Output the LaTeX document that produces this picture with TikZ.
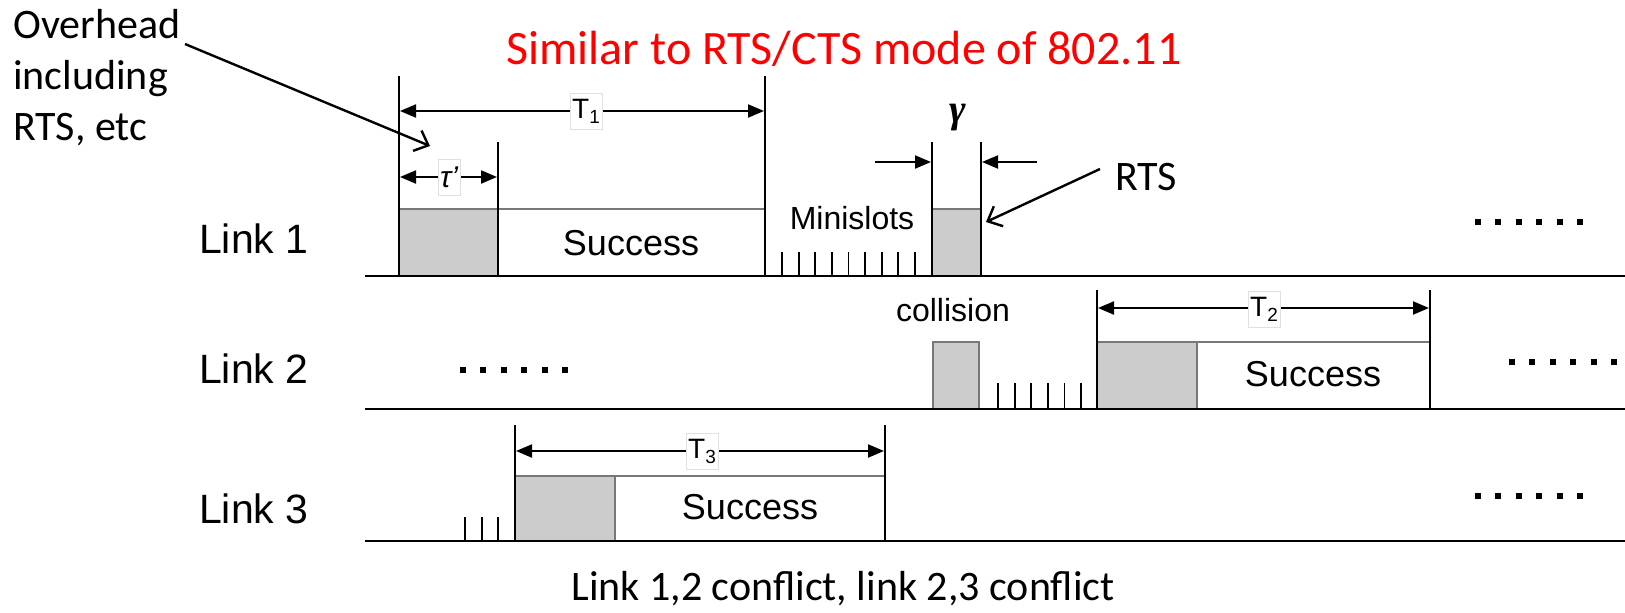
\documentclass[tikz,border=0pt]{standalone}
\usepackage{fontspec}
\setmainfont{Carlito}
\newfontfamily\arial{Liberation Sans}
\newfontfamily\tnr{Liberation Serif}
\usetikzlibrary{arrows.meta}
\definecolor{slotgray}{RGB}{204,204,204}
\definecolor{edgegray}{RGB}{120,120,120}
\definecolor{titlered}{RGB}{255,0,0}
\newcommand{\fs}[1]{\fontsize{#1}{#1}\selectfont}
\newcommand{\tsub}[2]{#1\raisebox{-5pt}{\fs{19}#2}}
\begin{document}
\begin{tikzpicture}[x=1pt,y=-1pt,
  baseln/.style={line width=2.4pt, black},
  vbar/.style={line width=2.2pt, black},
  tickln/.style={line width=1.8pt, black},
  ohbox/.style={fill=slotgray, draw=edgegray, line width=1.2pt},
  succbox/.style={fill=white, draw=edgegray, line width=1.2pt},
  dimarrow/.style={line width=2pt, {Triangle[length=16pt,width=13pt]}-{Triangle[length=16pt,width=13pt]}},
  pusharrow/.style={line width=2pt, -{Triangle[length=16pt,width=13pt]}},
  tlabel/.style={fill=white, draw=black!12, line width=0.6pt, inner sep=2pt, minimum height=36pt, font=\arial\fs{28}},
  pointer/.style={line width=2.4pt, -{Straight Barb[length=12pt,width=22pt,line width=2.4pt]}},
  dotrow/.style={line width=6pt, dash pattern=on 6pt off 14.4pt},
  linklabel/.style={anchor=base west, inner sep=0, font=\arial\fs{41}},
  slottext/.style={inner sep=0, font=\arial\fs{36}},
  smalltext/.style={inner sep=0, font=\arial\fs{32}},
  note/.style={inner sep=0, font=\fs{42}},
]
\useasboundingbox (0,0) rectangle (1625,613);

% ---------- title and notes ----------
\node[note, anchor=base, text=titlered, font=\fs{48}] (title) at (844,64) {Similar to RTS/CTS mode of 802.11};
\node[note, anchor=base] (bottom) at (843,600) {Link 1,2 conflict, link 2,3 conflict};
\node[note, anchor=base west] (ov1) at (13,38) {Overhead};
\node[note, anchor=base west] (ov2) at (13,89) {including};
\node[note, anchor=base west] (ov3) at (13,140) {RTS, etc};

% ---------- link labels ----------
\node[linklabel] (l1) at (199,253) {Link 1};
\node[linklabel] (l2) at (199,383) {Link 2};
\node[linklabel] (l3) at (199,523) {Link 3};

% ---------- Link 1 ----------
\draw[ohbox] (399,209) rectangle (498,276);
\draw[succbox] (498,209) rectangle (765,276);
\node[slottext] (s1) at (631,243) {Success};
\foreach \i in {0,...,8} \draw[tickln] ({782+\i*16.6},252) -- ({782+\i*16.6},276);
\node[smalltext] (mini) at (852,218) {Minislots};
\draw[ohbox] (932,209) rectangle (981,276);
\draw[baseln] (365,276) -- (1625,276);
\draw[vbar] (399,76) -- (399,277);
\draw[vbar] (498,142) -- (498,277);
\draw[vbar] (765,76) -- (765,277);
\draw[vbar] (932,142) -- (932,277);
\draw[vbar] (981,142) -- (981,277);
\coordinate (t1a) at (400,111); \coordinate (t1b) at (764,111);
\draw[dimarrow] (t1a) -- (t1b);
\node[tlabel] (T1) at (586,111) {\tsub{T}{1}};
\coordinate (taua) at (400,177); \coordinate (taub) at (497,177);
\draw[dimarrow] (taua) -- (taub);
\node[tlabel, font=\arial\itshape\fs{30}] (tau) at (449,177) {τ’};
\coordinate (ga0) at (875,162); \coordinate (ga1) at (931,162);
\coordinate (gb0) at (1037,162); \coordinate (gb1) at (982,162);
\draw[pusharrow] (ga0) -- (ga1);
\draw[pusharrow] (gb0) -- (gb1);
\node[inner sep=0, font=\tnr\itshape\bfseries\fs{40}] (gamma) at (958,118) {γ};
\node[note, anchor=base] (rts) at (1146,190) {RTS};
\coordinate (rtsfrom) at (1100,169); \coordinate (rtsto) at (986,222);
\draw[pointer] (rtsfrom) -- (rtsto);
\coordinate (ovfrom) at (185,44); \coordinate (ovto) at (430,146);
\draw[pointer] (ovfrom) -- (ovto);
\draw[dotrow] (1475,222) -- (1583,222);

% ---------- Link 2 ----------
\draw[dotrow] (460,370) -- (570,370);
\draw[ohbox] (933,342) rectangle (979,409);
\node[smalltext] (coll) at (953,310) {collision};
\foreach \i in {0,...,5} \draw[tickln] ({998+\i*16.6},383) -- ({998+\i*16.6},409);
\draw[ohbox] (1097,342) rectangle (1197,409);
\draw[succbox] (1197,342) rectangle (1430,409);
\node[slottext] (s2) at (1313,374) {Success};
\draw[baseln] (365,409) -- (1625,409);
\draw[vbar] (1097,290) -- (1097,410);
\draw[vbar] (1430,290) -- (1430,410);
\coordinate (t2a) at (1098,308); \coordinate (t2b) at (1429,308);
\draw[dimarrow] (t2a) -- (t2b);
\node[tlabel] (T2) at (1264,309) {\tsub{T}{2}};
\draw[dotrow] (1509,362) -- (1617,362);

% ---------- Link 3 ----------
\foreach \x in {465,482,498} \draw[tickln] (\x,517) -- (\x,541);
\draw[ohbox] (515,476) rectangle (615,541);
\draw[succbox] (615,476) rectangle (885,541);
\node[slottext] (s3) at (750,507) {Success};
\draw[baseln] (365,541) -- (1625,541);
\draw[vbar] (515,425) -- (515,542);
\draw[vbar] (885,425) -- (885,542);
\coordinate (t3a) at (516,451); \coordinate (t3b) at (884,451);
\draw[dimarrow] (t3a) -- (t3b);
\node[tlabel] (T3) at (702,451) {\tsub{T}{3}};
\draw[dotrow] (1475,496) -- (1583,496);
\end{tikzpicture}
\end{document}
